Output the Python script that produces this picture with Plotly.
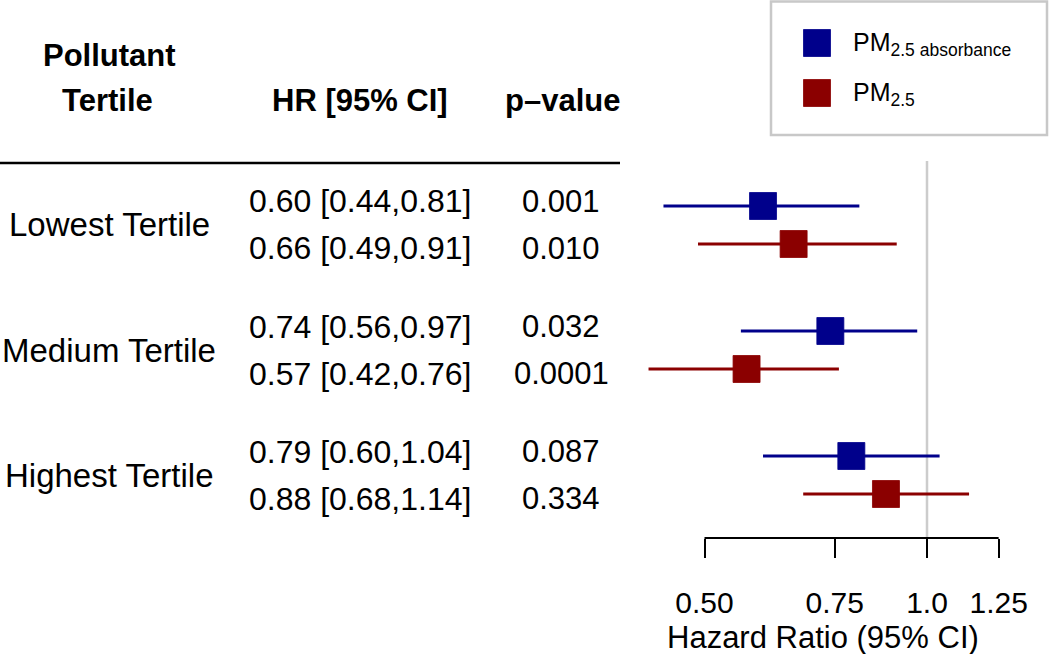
import math
import plotly.graph_objects as go

# ---------------- data ----------------
groups = ["Lowest Tertile", "Medium Tertile", "Highest Tertile"]
series_names = ["PM<sub>2.5 absorbance</sub>", "PM<sub>2.5</sub>"]
series_colors = ["#00008B", "#8B0000"]

abs_hr = [0.60, 0.74, 0.79]
abs_lo = [0.44, 0.56, 0.60]
abs_hi = [0.81, 0.97, 1.04]
abs_p = ["0.001", "0.032", "0.087"]

pm25_hr = [0.66, 0.57, 0.88]
pm25_lo = [0.49, 0.42, 0.68]
pm25_hi = [0.91, 0.76, 1.14]
pm25_p = ["0.010", "0.0001", "0.334"]

tick_vals = [0.5, 0.75, 1.0, 1.25]
tick_text = ["0.50", "0.75", "1.0", "1.25"]
x_title = "Hazard Ratio (95% CI)"
headers = ["Pollutant", "Tertile", "HR [95% CI]", "p\u2013value"]

# ---------------- layout geometry ----------------
W, H = 1050, 654
FONT = "Liberation Sans, Arial, Helvetica, sans-serif"


def px(p):
    return p / W


def py(p):
    return 1 - p / H


# x axis: log scale, value 1.0 at pixel 927, 321 px per natural-log unit
X_ONE, PX_PER_LN = 927.0, 321.0
X_LEFT, X_RIGHT = 645.0, 1001.0


def log10_at(p):
    return (p - X_ONE) / PX_PER_LN / math.log(10)


# y axis: group index g, group centre at pixel 225 + 125*g
Y_TOP, Y_BOT = 150.0, 538.0


def g_at(p):
    return (p - 225.0) / 125.0


ROW_OFF = 0.152   # marker offset within a group
TXT_OFF = 0.188   # text offset within a group

series = [
    (abs_hr, abs_lo, abs_hi, abs_p, -1),
    (pm25_hr, pm25_lo, pm25_hi, pm25_p, +1),
]

fig = go.Figure()
for (hr, lo, hi, _, sgn), col in zip(series, series_colors):
    fig.add_trace(go.Scatter(
        x=hr,
        y=[g + sgn * ROW_OFF for g in range(len(groups))],
        mode="markers",
        marker=dict(symbol="square", size=27, color=col,
                    line=dict(width=0.8, color=col)),
        error_x=dict(type="data", symmetric=False,
                     array=[h - e for h, e in zip(hi, hr)],
                     arrayminus=[e - l for e, l in zip(hr, lo)],
                     width=0, thickness=3, color=col),
        showlegend=False,
        hoverinfo="skip",
    ))

annotations = []
# group labels
for g, name in enumerate(groups):
    annotations.append(dict(x=px(109), y=g, xref="paper", yref="y", text=name,
                            showarrow=False, xanchor="center", yanchor="middle",
                            font=dict(family=FONT, size=33, color="black")))
# HR text and p-values
for hr, lo, hi, pv, sgn in series:
    for g in range(len(groups)):
        annotations.append(dict(
            x=px(360), y=g + sgn * TXT_OFF, xref="paper", yref="y",
            text=f"{hr[g]:.2f} [{lo[g]:.2f},{hi[g]:.2f}]",
            showarrow=False, xanchor="center", yanchor="middle",
            font=dict(family=FONT, size=32, color="black")))
        annotations.append(dict(
            x=px(561), y=g + sgn * TXT_OFF, xref="paper", yref="y",
            text=pv[g], showarrow=False, xanchor="center", yanchor="middle",
            font=dict(family=FONT, size=31, color="black")))

# headers
hdr_pos = [(109, 55), (107, 100), (360, 100), (562, 100)]
for txt, (hx, hy) in zip(headers, hdr_pos):
    annotations.append(dict(x=px(hx), y=py(hy), xref="paper", yref="paper",
                            text=f"<b>{txt}</b>", showarrow=False,
                            xanchor="center", yanchor="middle",
                            font=dict(family=FONT, size=31, color="black")))

# x axis title
annotations.append(dict(x=px(823), y=py(637), xref="paper", yref="paper",
                        text=x_title, showarrow=False, xanchor="center",
                        yanchor="middle",
                        font=dict(family=FONT, size=31, color="black")))

# legend text
leg_y = [43, 93]
for name, ly in zip(series_names, leg_y):
    annotations.append(dict(x=px(851), y=py(ly + 1), xref="paper", yref="paper",
                            text=name, showarrow=False, xanchor="left",
                            yanchor="middle",
                            font=dict(family=FONT, size=25, color="black")))

shapes = []
# header rule
shapes.append(dict(type="line", xref="paper", yref="paper",
                   x0=0, x1=px(620), y0=py(163), y1=py(163),
                   line=dict(color="black", width=2.5)))
# reference line at HR = 1
shapes.append(dict(type="line", xref="x", yref="paper", x0=1, x1=1,
                   y0=py(Y_BOT), y1=py(161),
                   line=dict(color="#cccccc", width=2.5), layer="below"))
# axis line spanning the tick range
shapes.append(dict(type="line", xref="x", yref="paper",
                   x0=tick_vals[0], x1=tick_vals[-1],
                   y0=py(Y_BOT), y1=py(Y_BOT),
                   line=dict(color="black", width=2)))
# legend box
shapes.append(dict(type="rect", xref="paper", yref="paper",
                   x0=px(771), x1=px(1047), y0=py(1.5), y1=py(135),
                   line=dict(color="#c8c8c8", width=2.5), fillcolor="white",
                   layer="below"))
# legend swatches
for col, ly in zip(series_colors, leg_y):
    shapes.append(dict(type="rect", xref="paper", yref="paper",
                       x0=px(803.5), x1=px(830.5), y0=py(ly - 13.5), y1=py(ly + 13.5),
                       line=dict(color=col, width=0.8), fillcolor=col))

fig.update_layout(
    width=W, height=H, autosize=False,
    margin=dict(l=0, r=0, t=0, b=0, pad=0, autoexpand=False),
    paper_bgcolor="white", plot_bgcolor="white",
    showlegend=False,
    xaxis=dict(type="log", domain=[px(X_LEFT), px(X_RIGHT)],
               range=[log10_at(X_LEFT), log10_at(X_RIGHT)],
               tickvals=tick_vals, ticktext=tick_text,
               ticks="outside", ticklen=19, tickwidth=2, tickcolor="black",
               ticklabelstandoff=19, automargin=False,
               tickfont=dict(family=FONT, size=30, color="black"),
               showline=False, showgrid=False, zeroline=False, fixedrange=True),
    yaxis=dict(domain=[py(Y_BOT), py(Y_TOP)],
               range=[g_at(Y_BOT), g_at(Y_TOP)], automargin=False,
               visible=False, showgrid=False, zeroline=False, fixedrange=True),
    annotations=annotations,
    shapes=shapes,
)

fig.write_html(
    "out.html",
    config={"displayModeBar": False},
    post_script="document.body.style.margin='0';document.body.style.overflow='hidden';",
)
